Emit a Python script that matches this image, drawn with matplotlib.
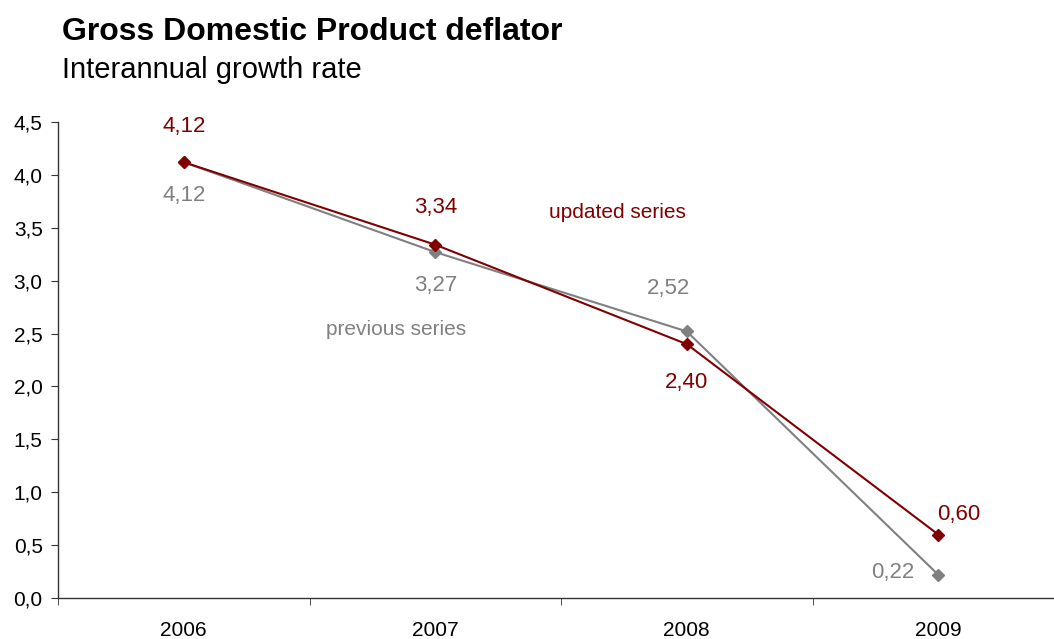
import numpy as np
import matplotlib.pyplot as plt

plt.rcParams['font.family'] = ['Liberation Sans', 'DejaVu Sans']

years = ["2006", "2007", "2008", "2009"]
updated = [4.12, 3.34, 2.40, 0.60]
previous = [4.12, 3.27, 2.52, 0.22]

# label offsets in pixels (dx, dy)
upd_offsets = [(0, 36), (0, 37), (0, -38), (20, 20)]
prev_offsets = [(0, -33), (0, -33), (-18, 43), (-45, 2)]

red = "#800000"
grey = "#808080"

fig = plt.figure(figsize=(10.54, 6.39), dpi=100)
ax = fig.add_axes([58 / 1054, 41 / 639, (1064 - 58) / 1054, 476 / 639])

x = np.arange(len(years))
ax.plot(x, previous, color=grey, lw=1.5, marker="D", ms=6.5, zorder=2)
ax.plot(x, updated, color=red, lw=1.5, marker="D", ms=6.5, zorder=3)

for xi, v, (dx, dy) in zip(x, updated, upd_offsets):
    ax.annotate(f"{v:.2f}".replace(".", ","), (xi, v), xytext=(dx, dy),
                textcoords="offset pixels", ha="center", va="center",
                color=red, fontsize=16)
for xi, v, (dx, dy) in zip(x, previous, prev_offsets):
    ax.annotate(f"{v:.2f}".replace(".", ","), (xi, v), xytext=(dx, dy),
                textcoords="offset pixels", ha="center", va="center",
                color=grey, fontsize=16)

ax.text(1.725, 3.64, "updated series", color=red, fontsize=15,
        ha="center", va="center")
ax.text(0.845, 2.54, "previous series", color=grey, fontsize=15,
        ha="center", va="center")

ax.set_xlim(-0.5, 3.5)
ax.set_ylim(0, 4.5)
yt = np.arange(0, 4.51, 0.5)
ax.set_yticks(yt)
ax.set_yticklabels([f"{t:.1f}".replace(".", ",") for t in yt])
ax.set_xticks(x)
ax.set_xticklabels(years)
ax.set_xticks(np.arange(-0.5, 3.6, 1), minor=True)
ax.tick_params(axis="x", which="major", length=0, pad=16.5, labelsize=15)
ax.tick_params(axis="x", which="minor", length=5, direction="out",
               color="#333333")
ax.tick_params(axis="y", length=5, direction="out", labelsize=15,
               color="#333333", pad=6)
for s in ["top", "right"]:
    ax.spines[s].set_visible(False)
for s in ["left", "bottom"]:
    ax.spines[s].set_color("#333333")
    ax.spines[s].set_linewidth(1)

fig.text(62 / 1054, 1 - 32 / 639, "Gross Domestic Product deflator",
         fontsize=23, fontweight="bold", va="center")
fig.text(62 / 1054, 1 - 70 / 639, "Interannual growth rate",
         fontsize=21, va="center")

fig.savefig("out.png", dpi=100)
